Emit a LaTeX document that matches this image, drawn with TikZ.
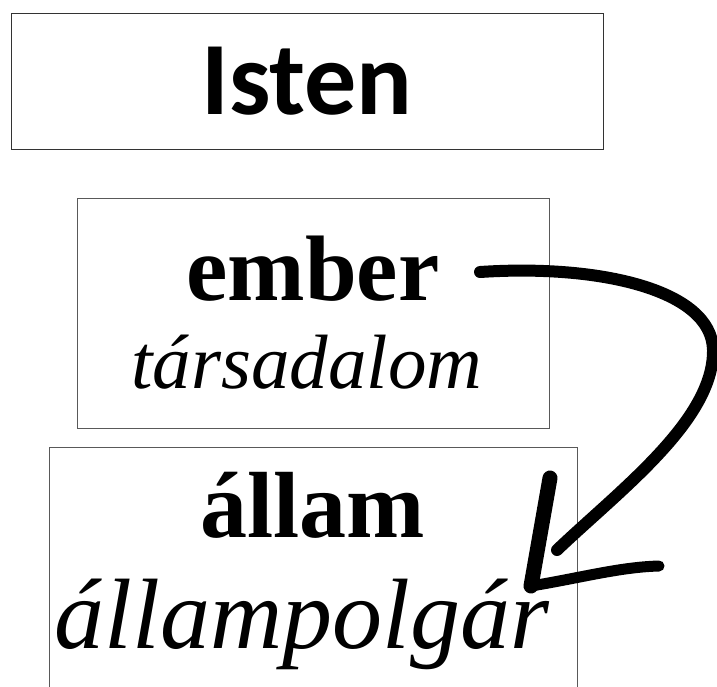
\documentclass[tikz,border=0pt]{standalone}
\usepackage{fontspec}
\setmainfont{Liberation Serif}[
  UprightFont={Liberation Serif},
  BoldFont={Liberation Serif Bold},
  ItalicFont={Liberation Serif Italic},
  BoldItalicFont={Liberation Serif Bold Italic}]
\newfontfamily\carlito{Carlito}
\newfontfamily\serifit{Liberation Serif Italic}
\begin{document}
\begin{tikzpicture}[x=1pt,y=-1pt,
  box/.style={draw=black!65,line width=0.9pt},
  lbl/.style={inner sep=0pt,anchor=base},
  stroke/.style={line width=13pt,line cap=round,line join=round,black}]
\useasboundingbox (0,0) rectangle (717,686);
\begin{scope}
\clip (0,0) rectangle (717,686);
\draw[box,draw=black!80] (11,13) rectangle (603,149);
\node[lbl] (isten) at (307,114) {\carlito\bfseries\fontsize{104}{104}\selectfont Isten};
\draw[box] (77,198) rectangle (549,428);
\node[lbl] (ember) at (313,300) {\bfseries\fontsize{93}{93}\selectfont ember};
\node[lbl] (tars) at (307,388) {\serifit\fontsize{77}{77}\selectfont társadalom};
\draw[box] (49,447) rectangle (577,700);
\node[lbl] (allam) at (313,537) {\bfseries\fontsize{94}{94}\selectfont állam};
\node[lbl] (polg) at (302,648) {\serifit\fontsize{100}{100}\selectfont állampolgár};
\coordinate (a0) at (480,272);
\coordinate (a1) at (713,350);
\coordinate (a2) at (557,550);
\coordinate (h1) at (550,478);
\coordinate (h2) at (531,586);
\coordinate (h3) at (659,566);
\draw[stroke,line width=12pt] (a0) .. controls (600,264) and (712,290) .. (a1)
   .. controls (714,420) and (620,490) .. (a2);
\draw[stroke,line width=15pt] (h1) -- (h2);
\draw[stroke,line width=11pt] (h2) .. controls (580,578) and (620,567) .. (h3);
\end{scope}
\end{tikzpicture}
\end{document}
